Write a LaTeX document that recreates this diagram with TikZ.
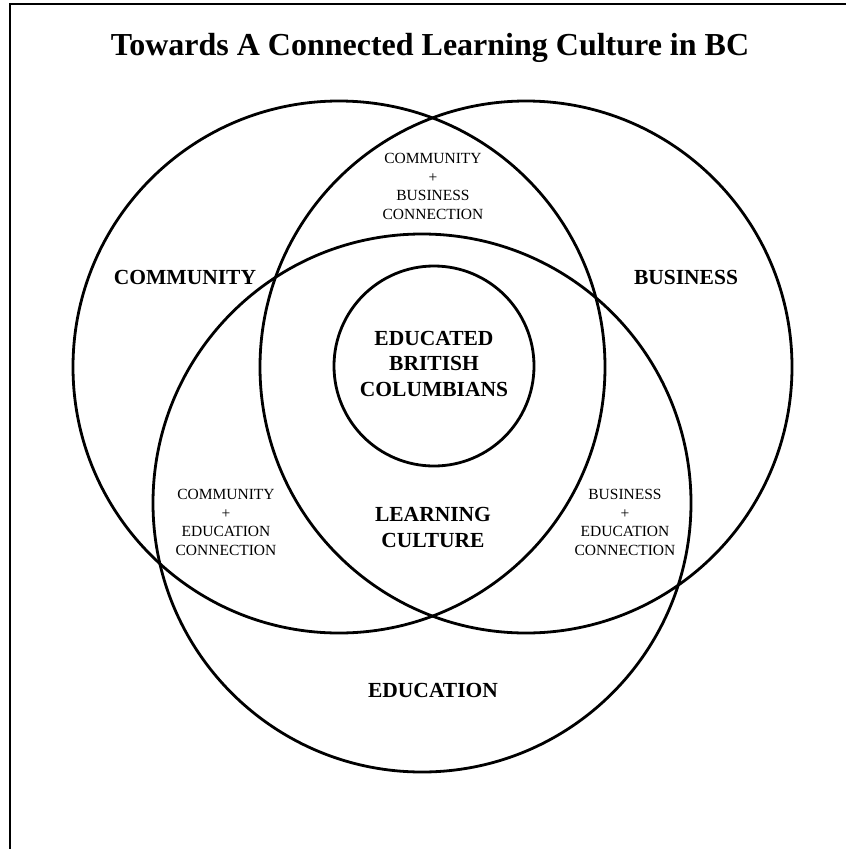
\documentclass[tikz,border=0pt]{standalone}
\usepackage{fontspec}
\setmainfont{Liberation Serif}
\usepackage{tikz}
\usetikzlibrary{shapes.geometric, arrows, positioning}

\tikzset{
  ring/.style={circle, draw, line width=2.8pt, inner sep=0pt, outer sep=0pt},
  bigtag/.style={align=center, anchor=base, font=\fontsize{21.5}{25.5}\selectfont\bfseries},
  smalltag/.style={align=center, anchor=base, font=\fontsize{15.5}{18.5}\selectfont}
}

\begin{document}
\begin{tikzpicture}[x=1pt, y=-1pt]
    \useasboundingbox (0,0) rectangle (846,849);
    % frame, only left and top edges show
    \coordinate (fbl) at (10,852);
    \coordinate (ftr) at (849,4);
    \draw [line width=2.4pt] (fbl) |- (ftr);
    \node [anchor=base, font=\fontsize{32}{38}\selectfont\bfseries] (title) at (430,55) {Towards A Connected Learning Culture in BC};
    % the three big circles and the core
    \node [ring, minimum size=532pt] (community) at (339,367) {};
    \node [ring, minimum size=532pt] (business) at (526,367) {};
    \node [ring, minimum size=538pt] (education) at (422,503) {};
    \node [ring, minimum size=200pt] (core) at (434,366) {};
    % labels (base sits on the last line)
    \node [bigtag] (comlbl) at (185,284) {COMMUNITY};
    \node [bigtag] (buslbl) at (686,284) {BUSINESS};
    \node [bigtag] (edulbl) at (433,697) {EDUCATION};
    \node [bigtag] (corelbl) at (434,396) {EDUCATED\\BRITISH\\COLUMBIANS};
    \node [bigtag] (learn) at (433,547) {LEARNING\\CULTURE};
    \node [smalltag] (combus) at (433,219) {COMMUNITY\\+\\BUSINESS\\CONNECTION};
    \node [smalltag] (comedu) at (226,555) {COMMUNITY\\+\\EDUCATION\\CONNECTION};
    \node [smalltag] (busedu) at (625,555) {BUSINESS\\+\\EDUCATION\\CONNECTION};
  \end{tikzpicture}
\end{document}
